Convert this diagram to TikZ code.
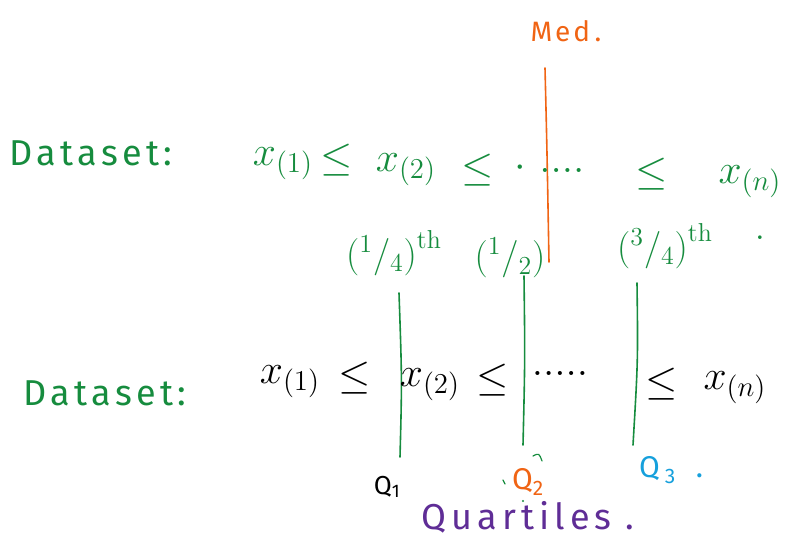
\documentclass[tikz,border=0pt]{standalone}
\usepackage{fontspec}
\setsansfont{Fira Sans}
\definecolor{hgreen}{RGB}{22,140,62}
\definecolor{horange}{RGB}{240,100,20}
\definecolor{hblue}{RGB}{22,160,220}
\definecolor{hpurple}{RGB}{95,45,150}
\tikzset{
  lbl/.style={font=\sffamily\fontsize{36}{40}\selectfont\addfontfeatures{LetterSpace=12}, inner sep=0pt},
  mth/.style={font=\huge, scale=2.0, inner sep=0pt},
  frac/.style={font=\huge, scale=1.8, inner sep=0pt, text=hgreen},
  pen/.style={line width=1.6pt, line cap=round},
}
\begin{document}
\begin{tikzpicture}[x=1pt,y=-1pt]
\useasboundingbox (0,0) rectangle (803,541);
% Median
\node[font=\sffamily\fontsize{28}{30}\selectfont\addfontfeatures{LetterSpace=10}, inner sep=0pt, text=horange] (med) at (566,31) {Med\,.};
\coordinate (mtop) at (545,68);
\coordinate (mbot) at (549,262);
\draw[pen, horange] (mtop) .. controls (547,150) .. (mbot);
% Top dataset
\node[lbl, text=hgreen] (ds1) at (91,153) {Dataset:};
\begin{scope}[every node/.append style={mth, text=hgreen}]
\node (a1) at (283,164) {$x_{(1)}$};
\node (a2) at (337,160) {$\leq$};
\node (a3) at (406,170) {$x_{(2)}$};
\node (a4) at (478,170) {$\leq$};
\node (a4d) at (520,168) {$\cdot$};
\node (a5) at (562,170) {$....$};
\node (a6) at (652,174) {$\leq$};
\node (a7) at (750,182) {$x_{(n)}$};
\end{scope}
% fractions
\node[frac] (f1) at (394,253) {$\bigl({}^1/{}_4\bigr)^{\mathrm{th}}$};
\node[frac] (f2) at (510,258) {$\bigl({}^1/{}_2\bigr)$};
\node[frac] (f3) at (665,246) {$\bigl({}^3/{}_4\bigr)^{\mathrm{th}}$};
\node[frac] (f3d) at (760,238) {$.$};
% green quartile lines
\coordinate (q1t) at (399,293); \coordinate (q1b) at (400,457);
\coordinate (q2t) at (524,276); \coordinate (q2b) at (523,445);
\coordinate (q3t) at (637,283); \coordinate (q3b) at (633,445);
\draw[pen, hgreen] (q1t) .. controls (402,380) .. (q1b);
\draw[pen, hgreen] (q2t) .. controls (525,360) .. (q2b);
\draw[pen, hgreen] (q3t) .. controls (638,360) .. (q3b);
% stray pen marks near Q2
\draw[pen, hgreen, line width=1.2pt] (533,456) .. controls (539,453) .. (542,461);
\draw[pen, hgreen, line width=1.2pt] (503,480) -- (505,484);
\fill[hgreen] (523,501) circle (1.2);
% bottom dataset
\node[lbl, text=hgreen] (ds2) at (105,393) {Dataset:};
\begin{scope}[every node/.append style={mth, text=black}]
\node (b1) at (290,382) {$x_{(1)}$};
\node (b2) at (355,378) {$\leq$};
\node (b3) at (430,385) {$x_{(2)}$};
\node (b4) at (493,380) {$\leq$};
\node (b5) at (560,373) {$.....$};
\node (b6) at (662,384) {$\leq$};
\node (b7) at (735,388) {$x_{(n)}$};
\end{scope}
% Quartile labels
\node[font=\sffamily\fontsize{26}{28}\selectfont, inner sep=0pt] (Q1) at (387,487) {Q\textsubscript{1}};
\node[font=\sffamily\fontsize{30}{32}\selectfont, inner sep=0pt, text=horange] (Q2) at (528,482) {Q\textsubscript{2}};
\node[font=\sffamily\fontsize{30}{32}\selectfont, inner sep=0pt, text=hblue] (Q3) at (671,470) {Q\,\textsubscript{3}\hspace{20pt}.};
\node[font=\sffamily\fontsize{36}{40}\selectfont\addfontfeatures{LetterSpace=14}, inner sep=0pt, text=hpurple] (qs) at (528,517) {Quartiles\hspace{14pt}.};
\end{tikzpicture}
\end{document}
